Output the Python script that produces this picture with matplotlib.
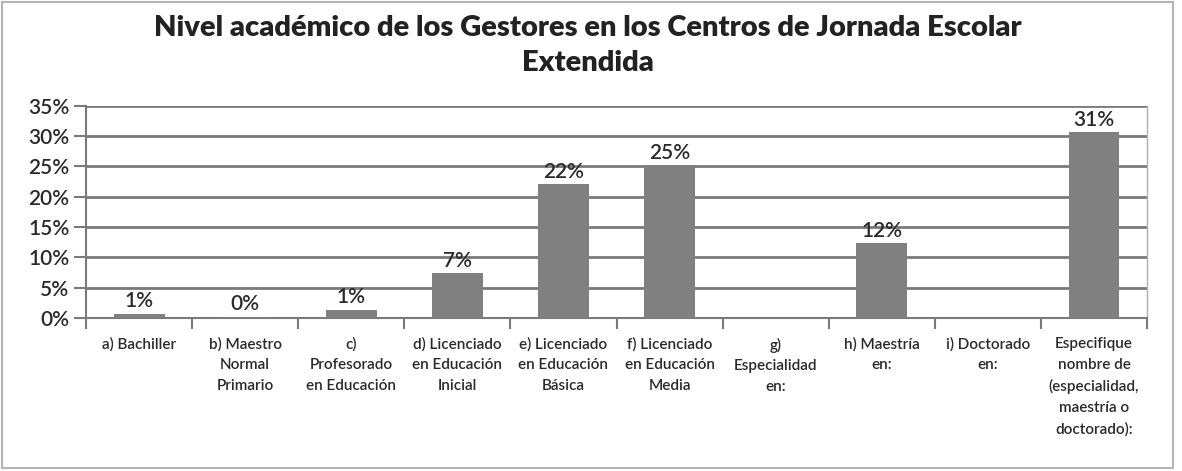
import matplotlib.pyplot as plt
import numpy as np
from matplotlib.patches import Rectangle

categories = [
    "a) Bachiller",
    "b) Maestro\nNormal\nPrimario",
    "c)\nProfesorado\nen Educación",
    "d) Licenciado\nen Educación\nInicial",
    "e) Licenciado\nen Educación\nBásica",
    "f) Licenciado\nen Educación\nMedia",
    "g)\nEspecialidad\nen:",
    "h) Maestría\nen:",
    "i) Doctorado\nen:",
    "Especifique\nnombre de\n(especialidad,\nmaestría o\ndoctorado):",
]
values = [0.7, 0.2, 1.4, 7.4, 22.1, 25.2, 0.0, 12.3, 0.0, 30.6]
yticks = [0, 5, 10, 15, 20, 25, 30, 35]

plt.rcParams["font.family"] = ["Lato", "DejaVu Sans"]

fig = plt.figure(figsize=(11.82, 4.71), dpi=100, facecolor="white")
ax = fig.add_axes([0.0728, 0.3248, 0.8976, 0.4508])

x = np.arange(len(categories))
ax.bar(x, values, width=0.48, color="#808080", zorder=3)

for xi, v in zip(x, values):
    if v > 0:
        ax.text(xi, v + 0.4, f"{v:.0f}%", ha="center", va="bottom",
                fontsize=15, fontweight="semibold", color="#2a2a2a", zorder=4)

ax.set_xlim(-0.5, len(categories) - 0.5)
ax.set_ylim(0, 35)
ax.set_yticks(yticks, [f"{t}%" for t in yticks], fontsize=15,
              fontweight="semibold", color="#2a2a2a")
ax.yaxis.grid(True, color="#7a7a7a", linewidth=2, zorder=0)
ax.tick_params(axis="y", length=9, width=1.5, color="#7a7a7a", pad=3)

ax.set_xticks(x, categories, fontsize=11, fontweight="semibold",
              color="#2a2a2a", linespacing=1.6)
ax.set_xticks(np.arange(-0.5, len(categories)), minor=True)
ax.tick_params(axis="x", which="major", length=0, pad=14)
ax.tick_params(axis="x", which="minor", length=8, width=1.5, color="#7a7a7a")

ax.spines["top"].set_visible(False)
ax.spines["left"].set_color("#7a7a7a")
ax.spines["left"].set_linewidth(1.5)
ax.spines["bottom"].set_color("#7a7a7a")
ax.spines["bottom"].set_linewidth(1.5)
ax.spines["right"].set_color("#b0b0b0")
ax.spines["right"].set_linewidth(1)

fig.text(0.497, 0.94, "Nivel académico de los Gestores en los Centros de Jornada Escolar",
         ha="center", va="center", fontsize=21, fontweight="heavy", color="#222222")
fig.text(0.497, 0.866, "Extendida",
         ha="center", va="center", fontsize=21, fontweight="heavy", color="#222222")

fig.add_artist(Rectangle((0.002, 0.006), 0.99, 0.99, transform=fig.transFigure,
                         fill=False, edgecolor="#b5b5b5", linewidth=1.5))

fig.savefig("out.png", dpi=100, facecolor="white")
